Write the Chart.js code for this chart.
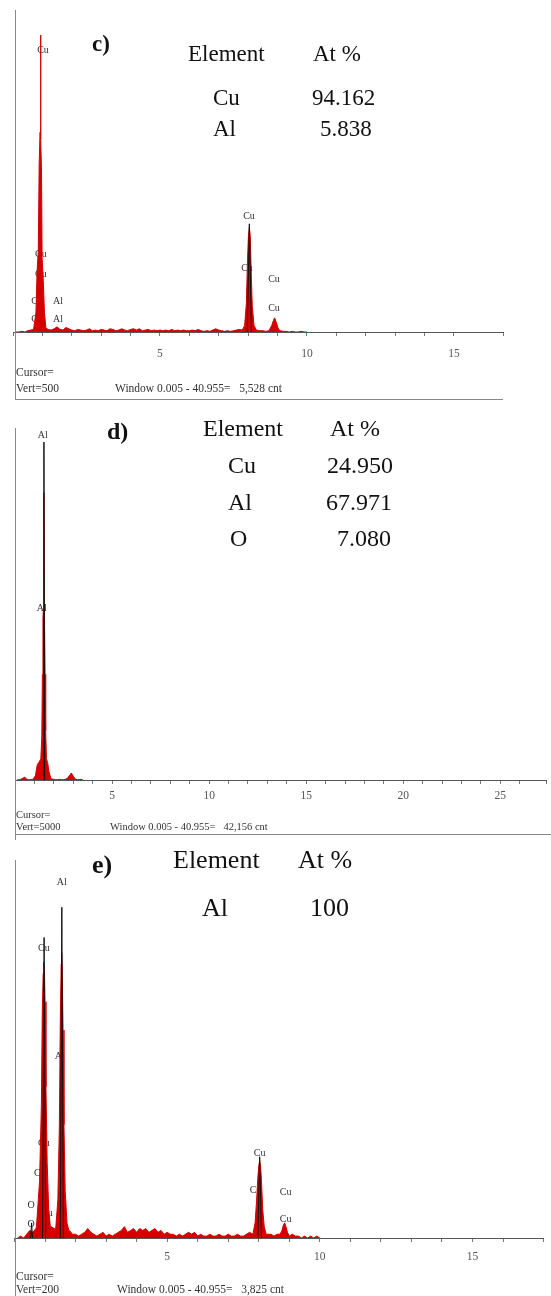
<!DOCTYPE html>
<html>
<head>
<meta charset="utf-8">
<script src="https://cdn.jsdelivr.net/npm/chart.js@4.4.1/dist/chart.umd.min.js"></script>
<style>
  body { margin: 0; background: #fff; }
  #page { position: relative; width: 551px; height: 1296px; overflow: hidden; background: #fff;
          font-family: "Liberation Serif", "Times New Roman", serif; color: #111; }
  canvas { position: absolute; left: 0; }
  .t { position: absolute; line-height: 1; white-space: pre; }
  .lbl { position: absolute; line-height: 1; white-space: pre; font-weight: bold; }
  .foot { position: absolute; line-height: 1; white-space: pre; font-size: 11.5px; color: #333; }
</style>
</head>
<body>
<div id="page">
  <canvas id="chartC" width="551" height="400" style="top:0"></canvas>
  <canvas id="chartD" width="551" height="440" style="top:400px"></canvas>
  <canvas id="chartE" width="551" height="456" style="top:840px"></canvas>

  <!-- c) -->
  <div class="lbl" style="left:92px;top:32px;font-size:23px">c)</div>
  <div class="t" style="left:188px;top:42px;font-size:23px">Element</div>
  <div class="t" style="left:313px;top:42px;font-size:23px">At %</div>
  <div class="t" style="left:213px;top:86px;font-size:23px">Cu</div>
  <div class="t" style="left:312px;top:86px;font-size:23px">94.162</div>
  <div class="t" style="left:213px;top:117px;font-size:23px">Al</div>
  <div class="t" style="left:320px;top:117px;font-size:23px">5.838</div>
  <div class="foot" style="left:16px;top:367px">Cursor=</div>
  <div class="foot" style="left:16px;top:383px">Vert=500</div>
  <div class="foot" style="left:115px;top:383px">Window 0.005 - 40.955=   5,528 cnt</div>

  <!-- d) -->
  <div class="lbl" style="left:107px;top:419px;font-size:24px">d)</div>
  <div class="t" style="left:203px;top:416px;font-size:24px">Element</div>
  <div class="t" style="left:330px;top:416px;font-size:24px">At %</div>
  <div class="t" style="left:228px;top:453px;font-size:24px">Cu</div>
  <div class="t" style="left:327px;top:453px;font-size:24px">24.950</div>
  <div class="t" style="left:228px;top:490px;font-size:24px">Al</div>
  <div class="t" style="left:326px;top:490px;font-size:24px">67.971</div>
  <div class="t" style="left:230px;top:526px;font-size:24px">O</div>
  <div class="t" style="left:337px;top:526px;font-size:24px">7.080</div>
  <div class="foot" style="left:16px;top:810px;font-size:10.5px">Cursor=</div>
  <div class="foot" style="left:16px;top:822px;font-size:10.5px">Vert=5000</div>
  <div class="foot" style="left:110px;top:822px;font-size:10.5px">Window 0.005 - 40.955=   42,156 cnt</div>

  <!-- e) -->
  <div class="lbl" style="left:92px;top:852px;font-size:26px">e)</div>
  <div class="t" style="left:173px;top:847px;font-size:26px">Element</div>
  <div class="t" style="left:298px;top:847px;font-size:26px">At %</div>
  <div class="t" style="left:202px;top:895px;font-size:26px">Al</div>
  <div class="t" style="left:310px;top:895px;font-size:26px">100</div>
  <div class="foot" style="left:16px;top:1271px">Cursor=</div>
  <div class="foot" style="left:16px;top:1284px">Vert=200</div>
  <div class="foot" style="left:117px;top:1284px">Window 0.005 - 40.955=   3,825 cnt</div>
</div>

<script>
// ---- panel c (Vert=500) ----
const cBgStart = 0.1;
const cBgCounts = [
  0, 0, 1, 0, 2, 3, 4, 0, 0, 0,
  0, 4, 3, 5, 8, 4, 3, 7, 5, 3,
  2, 4, 3, 2, 3, 5, 2, 3, 2, 4,
  3, 2, 5, 4, 2, 3, 5, 3, 2, 4,
  5, 3, 5, 2, 3, 4, 2, 3, 2, 3,
  2, 3, 2, 4, 2, 3, 2, 3, 2, 2,
  3, 2, 4, 2, 1, 2, 1, 3, 5, 3,
  2, 1, 2, 1, 2, 3, 4, 0, 0, 0,
  0, 0, 3, 2, 2, 1, 2, 0, 0, 0,
  2, 1, 1, 0, 1, 0, 0, 1, 0, 0
];
const cCuLKeV = [0.70, 0.78, 0.82, 0.86, 0.89, 0.92, 0.935, 0.95, 0.97, 0.99, 1.03, 1.07, 1.12];
const cCuLCounts = [4, 30, 95, 125, 260, 310, 461, 300, 250, 115, 80, 30, 6];
const cCuKaKeV = [7.80, 7.88, 7.94, 7.98, 8.01, 8.04, 8.07, 8.10, 8.14, 8.20, 8.28];
const cCuKaCounts = [3, 10, 45, 115, 150, 162, 150, 100, 40, 10, 3];
const cCuKbKeV = [8.72, 8.80, 8.86, 8.90, 8.95, 9.02, 9.08];
const cCuKbCounts = [3, 10, 18, 22, 16, 6, 2];
const cLineKeV = [7.97, 8.04, 8.11];
const cLineCounts = [0, 168, 0];
const cLabelText = ['Cu', 'Cu', 'Cu', 'Cu', 'Al', 'Cu', 'Al', 'Cu', 'Cu', 'Cu', 'Cu'];
const cLabelKeV = [1.02, 0.95, 0.95, 0.82, 1.53, 0.82, 1.53, 8.03, 7.96, 8.88, 8.88];
const cLabelCounts = [438, 121, 90, 47, 47, 19, 19, 179, 99, 81, 37];

// ---- panel d (Vert=5000) ----
const dBgStart = 0.1;
const dBgCounts = [
  0, 5, 10, 25, 40, 15, 5, 5, 10,
  0, 0, 0, 0, 0, 0, 0, 0, 0,
  15, 10, 5, 5, 10, 5, 5, 10, 25, 60, 100, 55, 15, 5, 5, 10, 0
];
const dAlKeV = [0.95, 1.05, 1.15, 1.25, 1.33, 1.38, 1.41, 1.44, 1.46, 1.48, 1.49, 1.50, 1.52, 1.55, 1.58, 1.62, 1.68, 1.75, 1.85];
const dAlCounts = [20, 60, 220, 260, 300, 600, 1500, 2300, 2400, 3000, 4080, 2400, 2300, 1500, 700, 300, 250, 120, 20];
const dLineKeV = [1.45, 1.49, 1.53];
const dLineCounts = [0, 4800, 0];
const dLabelText = ['Al', 'Al'];
const dLabelKeV = [1.43, 1.38];
const dLabelCounts = [4900, 2443];

// ---- panel e (Vert=200) ----
const eBgStart = 0.1;
const eBgCounts = [
  0, 1, 0, 2, 4, 3, 5, 0, 0, 0,
  0, 6, 5, 0, 0, 0, 0, 4, 2, 2,
  1, 2, 3, 5, 3, 2, 1, 2, 3, 1,
  2, 1, 2, 3, 4, 6, 3, 4, 5, 3,
  5, 4, 5, 3, 4, 5, 3, 4, 2, 3,
  2, 2, 1, 2, 1, 2, 3, 2, 3, 1,
  2, 1, 1, 2, 1, 1, 2, 1, 1, 2,
  1, 1, 2, 1, 1, 2, 3, 2, 0, 0,
  0, 0, 2, 2, 1, 2, 0, 0, 0, 0,
  2, 1, 1, 0, 1, 0, 1, 0, 1, 0
];
const eCuLKeV = [0.72, 0.82, 0.88, 0.91, 0.94, 0.96, 0.98, 1.00, 1.03, 1.07, 1.12, 1.18];
const eCuLCounts = [6, 30, 70, 120, 140, 146, 142, 125, 80, 40, 15, 5];
const eAlKeV = [1.35, 1.42, 1.47, 1.50, 1.53, 1.545, 1.56, 1.59, 1.62, 1.66, 1.72, 1.78];
const eAlCounts = [5, 20, 60, 115, 145, 151, 145, 110, 60, 25, 8, 4];
const eCuKaKeV = [7.82, 7.88, 7.93, 7.97, 8.00, 8.03, 8.06, 8.09, 8.13, 8.18, 8.24];
const eCuKaCounts = [3, 8, 20, 32, 38, 41, 38, 30, 15, 6, 2];
const eCuKbKeV = [8.70, 8.76, 8.81, 8.85, 8.89, 8.94, 9.00];
const eCuKbCounts = [2, 4, 7, 8, 6, 3, 1];
const eLineKeV = [0.53, 0.56, 0.59, null, 0.92, 0.97, 1.02, null, 1.50, 1.55, 1.60, null, 7.97, 8.03, 8.09];
const eLineCounts = [0, 8, 0, null, 0, 159, 0, null, 0, 175, 0, null, 0, 43, 0];
const eLabelText = ['Al', 'Cu', 'Al', 'Cu', 'Cu', 'O', 'O', 'Cu', 'Cu', 'Al', 'Cu', 'Cu', 'Cu', 'Cu'];
const eLabelKeV = [1.55, 0.96, 1.48, 0.96, 0.83, 0.54, 0.54, 1.06, 1.06, 1.55, 8.03, 7.90, 8.88, 8.88];
const eLabelCounts = [188, 153, 96, 50, 34, 17, 7, 13, 4, 5, 45, 25, 24, 10];

// Arka plan kanallarını ve pikleri tek spektrumda birleştir
function buildSpectrum(bgStart, bgCounts, peaks) {
    const pts = [];
    bgCounts.forEach((v, i) => {
        const x = +(bgStart + i * 0.1).toFixed(2);
        const inPeak = peaks.some(p => x >= p[0][0] && x <= p[0][p[0].length - 1]);
        if (!inPeak) pts.push({ x: x, y: v });
    });
    peaks.forEach(p => p[0].forEach((x, i) => pts.push({ x: x, y: p[1][i] })));
    return pts.sort((a, b) => a.x - b.x);
}

// Siyah çizgi; null değerler arasında boşluk bırak
function buildLines(keV, counts) {
    const pts = [];
    keV.forEach((x, i) => {
        if (x === null) {
            pts.push({ x: pts[pts.length - 1].x + 0.001, y: null });
        } else {
            pts.push({ x: x, y: counts[i] });
        }
    });
    return pts;
}

// Pik etiketleri ve çerçeve çizgileri
function makeMarks(text, keV, counts, frame) {
    return {
        id: 'peakMarks',
        beforeDatasetsDraw(chart) {
            const ctx = chart.ctx;
            const x = chart.scales.x, y = chart.scales.y;
            ctx.save();
            ctx.font = '10px "Liberation Serif", serif';
            ctx.fillStyle = '#333';
            ctx.textAlign = 'center';
            ctx.textBaseline = 'middle';
            text.forEach((t, i) => {
                ctx.fillText(t, x.getPixelForValue(keV[i]), y.getPixelForValue(counts[i]));
            });
            ctx.restore();
        },
        afterDraw(chart) {
            const ctx = chart.ctx;
            ctx.save();
            ctx.strokeStyle = '#888';
            ctx.lineWidth = 1;
            ctx.beginPath();
            ctx.moveTo(frame.left + 0.5, chart.chartArea.top);
            ctx.lineTo(frame.left + 0.5, chart.height);
            if (frame.bottom) {
                ctx.moveTo(frame.left, frame.bottom + 0.5);
                ctx.lineTo(frame.right, frame.bottom + 0.5);
            }
            ctx.stroke();
            ctx.restore();
        }
    };
}

function makeChart(canvasId, p) {
    return new Chart(document.getElementById(canvasId), {
        type: 'line',
        data: {
            datasets: [
                { data: p.lines, borderColor: '#111', borderWidth: 1, pointRadius: 0, fill: false, spanGaps: false, order: 0 },
                { data: p.spectrum, borderColor: '#d40000', backgroundColor: '#d40000', borderWidth: 1, pointRadius: 0, fill: 'origin', order: 1 }
            ]
        },
        options: {
            responsive: false,
            animation: false,
            events: [],
            devicePixelRatio: 1,
            layout: { padding: p.padding },
            plugins: { legend: { display: false }, tooltip: { enabled: false } },
            scales: {
                x: {
                    type: 'linear', min: 0, max: p.xMax,
                    grid: { drawOnChartArea: false, drawTicks: true, tickLength: 4, color: '#777' },
                    border: { color: '#555' },
                    ticks: {
                        stepSize: 1, autoSkip: false, maxRotation: 0, padding: p.tickPad, color: '#555',
                        font: { family: '"Liberation Serif", serif', size: 11.5 },
                        callback: v => (v > 0 && v % 5 === 0) ? String(v) : ''
                    },
                    afterFit: s => { s.height = p.axisHeight; }
                },
                y: { display: false, min: 0, max: p.yMax }
            }
        },
        plugins: [p.marks]
    });
}

document.addEventListener('DOMContentLoaded', function() {
    makeChart('chartC', {
        spectrum: buildSpectrum(cBgStart, cBgCounts, [[cCuLKeV, cCuLCounts], [cCuKaKeV, cCuKaCounts], [cCuKbKeV, cCuKbCounts]]),
        lines: buildLines(cLineKeV, cLineCounts),
        padding: { left: 13, right: 48, top: 10, bottom: 0 },
        xMax: 16.67, yMax: 500, axisHeight: 68, tickPad: 11,
        marks: makeMarks(cLabelText, cLabelKeV, cLabelCounts, { left: 15, right: 503, bottom: 399 })
    });

    makeChart('chartD', {
        spectrum: buildSpectrum(dBgStart, dBgCounts, [[dAlKeV, dAlCounts]]),
        lines: buildLines(dLineKeV, dLineCounts),
        padding: { left: 15, right: 0, top: 28, bottom: 0 },
        xMax: 27.35, yMax: 5000, axisHeight: 60, tickPad: 5,
        marks: makeMarks(dLabelText, dLabelKeV, dLabelCounts, { left: 15, right: 551, bottom: 434 })
    });

    makeChart('chartE', {
        spectrum: buildSpectrum(eBgStart, eBgCounts, [[eCuLKeV, eCuLCounts], [eAlKeV, eAlCounts], [eCuKaKeV, eCuKaCounts], [eCuKbKeV, eCuKbCounts]]),
        lines: buildLines(eLineKeV, eLineCounts),
        padding: { left: 14.5, right: 5, top: 20, bottom: 0 },
        xMax: 17.31, yMax: 200, axisHeight: 58, tickPad: 8,
        marks: makeMarks(eLabelText, eLabelKeV, eLabelCounts, { left: 15, right: 546, bottom: 0 })
    });
});
</script>
</body>
</html>
